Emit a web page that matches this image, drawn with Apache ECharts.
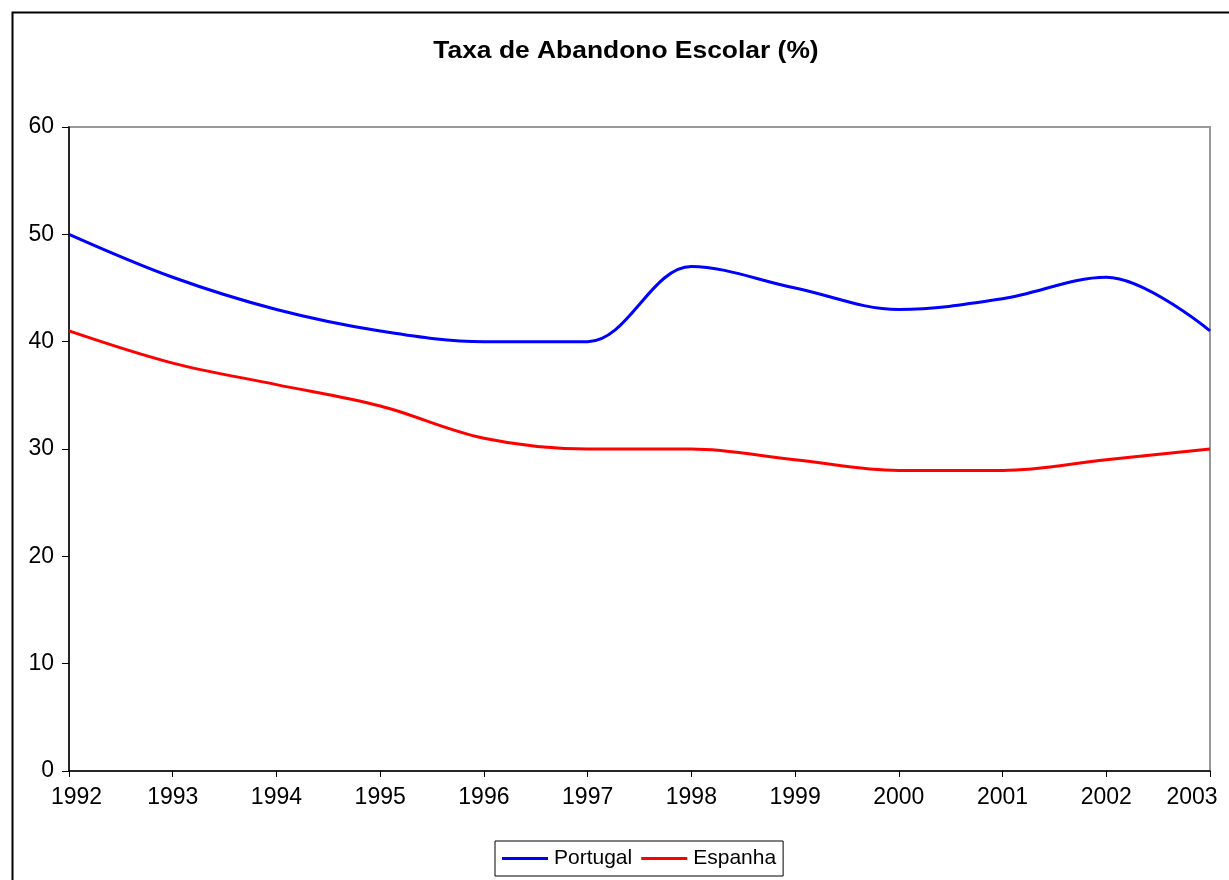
<!DOCTYPE html>
<html>
<head>
<meta charset="utf-8">
<script src="https://cdn.jsdelivr.net/npm/echarts@6/dist/echarts.min.js"></script>
<style>
html,body{margin:0;padding:0;background:#fff;}
#chart{width:1229px;height:880px;}
</style>
</head>
<body>
<div id="chart"></div>
<script>
const titleText = 'Taxa de Abandono Escolar (%)';
const years = ['1992','1993','1994','1995','1996','1997','1998','1999','2000','2001','2002','2003'];
const portugal = [50, 46, 43, 41, 40, 40, 47, 45, 43, 44, 46, 41];
const espanha = [41, 38, 36, 34, 31, 30, 30, 29, 28, 28, 29, 30];
const seriesNames = ['Portugal', 'Espanha'];

const font = 'Liberation Sans, Arial, sans-serif';
const chart = echarts.init(document.getElementById('chart'));
chart.setOption({
  backgroundColor: '#ffffff',
  animation: false,
  graphic: [
    {
      type: 'rect',
      left: 10, top: 10,
      shape: { width: 1300, height: 1000 },
      style: { fill: 'none', stroke: '#000', lineWidth: 2 },
      z: 100
    },
    {
      type: 'text',
      x: 626, y: 51,
      scaleX: 1.1,
      style: {
        text: titleText,
        x: 0, y: 0,
        align: 'center',
        verticalAlign: 'middle',
        font: 'bold 24px ' + font,
        fill: '#000'
      }
    }
  ],
  legend: {
    left: 495,
    top: 841,
    data: seriesNames,
    icon: 'rect',
    itemWidth: 46,
    itemHeight: 3,
    itemGap: 9,
    padding: [7, 7, 7, 7],
    borderColor: '#000',
    borderWidth: 1,
    textStyle: { fontFamily: font, fontSize: 21, color: '#000', padding: [0, 0, 0, 1] }
  },
  grid: {
    left: 69, top: 127, right: 19, bottom: 109,
    outerBoundsMode: 'none',
    containLabel: false,
    show: true,
    borderColor: '#999',
    borderWidth: 2,
    backgroundColor: '#fff'
  },
  xAxis: {
    type: 'category',
    data: years,
    boundaryGap: false,
    axisLine: { lineStyle: { color: '#000', width: 1.5 } },
    axisTick: { show: true, interval: 0, length: 6, lineStyle: { color: '#000' } },
    axisLabel: {
      interval: 0,
      hideOverlap: false,
      fontFamily: font, fontSize: 23, color: '#000', margin: 15,
      formatter: function (v, i) {
        if (i === 0) return '{first|' + v + '}';
        if (i === years.length - 1) return '{last|' + v + '}';
        return v;
      },
      rich: {
        first: { fontFamily: font, fontSize: 23, color: '#000', padding: [0, 0, 0, 15] },
        last: { fontFamily: font, fontSize: 23, color: '#000', padding: [0, 36, 0, 0] }
      }
    },
    splitLine: { show: false }
  },
  yAxis: {
    type: 'value',
    min: 0, max: 60, interval: 10,
    axisLine: { show: true, lineStyle: { color: '#000', width: 1.5 } },
    axisTick: { show: true, length: 7, lineStyle: { color: '#000' } },
    axisLabel: { fontFamily: font, fontSize: 23, color: '#000', margin: 15 },
    splitLine: { show: false }
  },
  series: [
    {
      name: seriesNames[0], type: 'line', data: portugal,
      smooth: 0.35, showSymbol: false, symbol: 'none',
      lineStyle: { color: '#0000ff', width: 3 }, itemStyle: { color: '#0000ff' }
    },
    {
      name: seriesNames[1], type: 'line', data: espanha,
      smooth: 0.35, showSymbol: false, symbol: 'none',
      lineStyle: { color: '#ff0000', width: 3 }, itemStyle: { color: '#ff0000' }
    }
  ]
});
</script>
</body>
</html>
